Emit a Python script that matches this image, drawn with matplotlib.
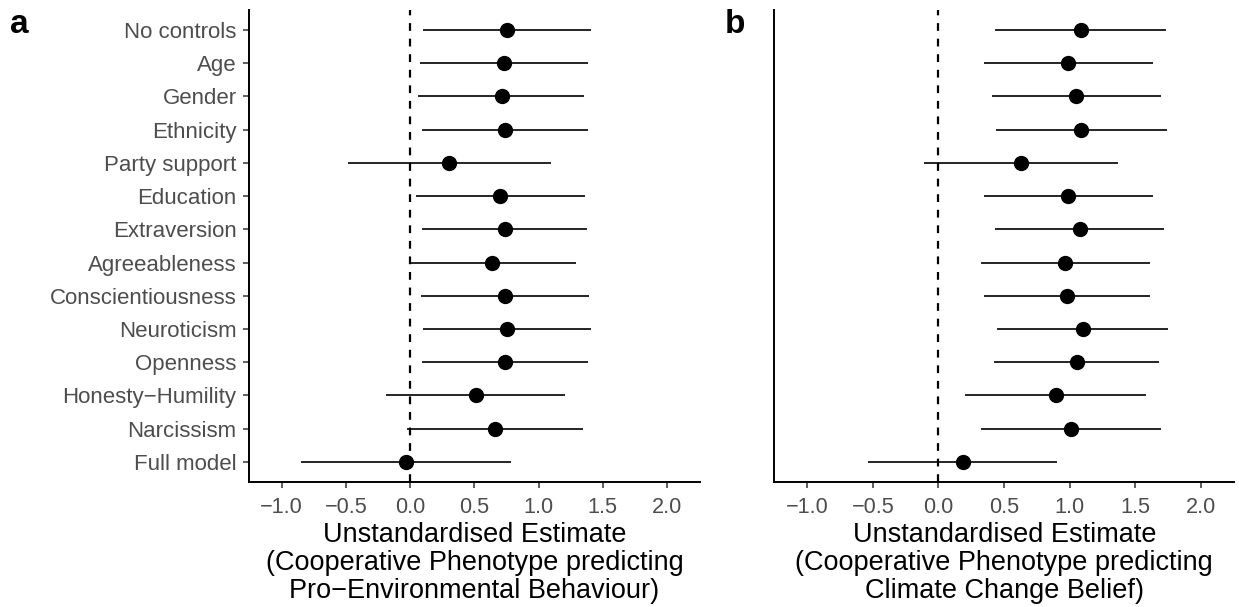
import matplotlib.pyplot as plt
import numpy as np

plt.rcParams['font.family'] = ['Liberation Sans', 'DejaVu Sans']

# model labels, top to bottom
models = ['No controls', 'Age', 'Gender', 'Ethnicity', 'Party support', 'Education',
          'Extraversion', 'Agreeableness', 'Conscientiousness', 'Neuroticism',
          'Openness', 'Honesty\u2212Humility', 'Narcissism', 'Full model']

# panel a: pro-environmental behaviour
est_a = [0.752, 0.732, 0.713, 0.739, 0.306, 0.703, 0.737, 0.641, 0.739, 0.755, 0.739, 0.511, 0.661, -0.034]
lo_a = [0.099, 0.075, 0.065, 0.091, -0.480, 0.044, 0.096, -0.008, 0.083, 0.101, 0.096, -0.189, -0.023, -0.848]
hi_a = [1.406, 1.388, 1.354, 1.388, 1.095, 1.365, 1.377, 1.292, 1.390, 1.406, 1.383, 1.206, 1.344, 0.784]

# panel b: climate change belief
est_b = [1.084, 0.990, 1.051, 1.087, 0.631, 0.990, 1.076, 0.967, 0.980, 1.099, 1.056, 0.893, 1.008, 0.186]
lo_b = [0.435, 0.346, 0.407, 0.438, -0.107, 0.344, 0.435, 0.326, 0.346, 0.448, 0.425, 0.201, 0.326, -0.534]
hi_b = [1.735, 1.636, 1.700, 1.740, 1.372, 1.636, 1.720, 1.611, 1.616, 1.753, 1.685, 1.585, 1.695, 0.903]

xticks = [-1.0, -0.5, 0.0, 0.5, 1.0, 1.5, 2.0]
titles = ['Unstandardised Estimate\n(Cooperative Phenotype predicting\nPro\u2212Environmental Behaviour)',
          'Unstandardised Estimate\n(Cooperative Phenotype predicting\nClimate Change Belief)']

fig = plt.figure(figsize=(12.39, 6.07), dpi=100)
ax_a = fig.add_axes([0.201, 0.2064, 0.364, 0.777])
ax_b = fig.add_axes([0.6249, 0.2064, 0.3713, 0.777])

y = np.arange(len(models))
for ax, est, lo, hi, title in [(ax_a, est_a, lo_a, hi_a, titles[0]),
                               (ax_b, est_b, lo_b, hi_b, titles[1])]:
    ax.axvline(0, color='black', lw=1.6, linestyle=(0, (3.5, 3.5)), zorder=1)
    ax.hlines(y, lo, hi, color='black', lw=1.2, zorder=2)
    ax.plot(est, y, 'o', color='black', markersize=10, zorder=3)
    ax.set_xlim(-1.253, 2.257)
    ax.set_ylim(len(models) - 0.4, -0.6)
    ax.set_xticks(xticks)
    ax.set_xticklabels(['%.1f' % t if t >= 0 else '\u2212%.1f' % -t for t in xticks])
    ax.set_xlabel(title, fontsize=19.5, linespacing=1.1, labelpad=3)
    for s in ['top', 'right']:
        ax.spines[s].set_visible(False)
    for s in ['left', 'bottom']:
        ax.spines[s].set_linewidth(1.4)
    ax.tick_params(axis='both', colors='#333333', labelcolor='#4D4D4D',
                   labelsize=15.6, length=4, width=1.1, pad=3)
    ax.tick_params(axis='x', pad=7)
    ax.tick_params(axis='y', labelsize=16, pad=5)

ax_a.set_yticks(y)
ax_a.set_yticklabels(models)
ax_b.set_yticks([])

fig.text(0.008, 0.9456, 'a', fontsize=24, fontweight='bold', va='baseline')
fig.text(0.585, 0.9456, 'b', fontsize=24, fontweight='bold', va='baseline')

fig.savefig('out.png', dpi=100)
